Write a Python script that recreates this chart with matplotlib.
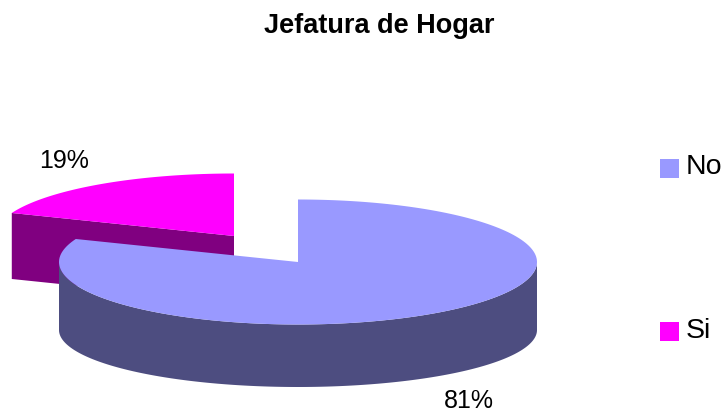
import numpy as np
import matplotlib
matplotlib.use('Agg')
import matplotlib.pyplot as plt
from matplotlib.patches import Polygon, Rectangle

plt.rcParams['font.family'] = ['Liberation Sans', 'DejaVu Sans']

title = 'Jefatura de Hogar'
labels = ['No', 'Si']
values = [81, 19]
top_colors = ['#9999ff', '#ff00ff']
side_colors = ['#4d4d80', '#800080']


def arc(cx, cy, a0, a1, rx=239, ry=62.5):
    # angles in degrees, clockwise from 12 o'clock
    t = np.radians(np.linspace(a0, a1, 200))
    return np.column_stack([cx + rx * np.sin(t), cy - ry * np.cos(t)])


fig = plt.figure(figsize=(7.25, 4.12), dpi=100)
ax = fig.add_axes([0, 0, 1, 1])
ax.set_xlim(0, 725)
ax.set_ylim(412, 0)
ax.axis('off')

end_no = 360 * values[0] / sum(values)

# slice "Si", pulled out to the upper left
cx, cy = 234, 236
si_top = arc(cx, cy, end_no, 360)
left = si_top[0]
depth = 66
ax.add_patch(Polygon([(cx, cy), left, (left[0], left[1] + depth), (cx, cy + depth)],
                     fc=side_colors[1], ec='none', zorder=1))
ax.add_patch(Polygon(np.vstack([[(cx, cy)], si_top]), fc=top_colors[1], ec='none', zorder=2))

# slice "No", the bottom ellipse is a bit flatter than the top one
cx, cy = 298, 262
rim = arc(cx, cy, 90, 270)
rim_low = arc(cx, cy + 68, 90, 270, ry=57)
wall = np.vstack([rim, rim_low[::-1]])
ax.add_patch(Polygon(wall, fc=side_colors[0], ec='none', zorder=3))
ax.add_patch(Polygon(np.vstack([[(cx, cy)], arc(cx, cy, 0, end_no)]),
                     fc=top_colors[0], ec='none', zorder=4))

ax.text(379.5, 32.5, title, ha='center', va='baseline', fontsize=19.5, fontweight='bold', color='black')
ax.text(64, 168, '%d%%' % values[1], ha='center', va='baseline', fontsize=18)
ax.text(469, 408, '%d%%' % values[0], ha='center', va='baseline', fontsize=18)

for lab, col, ly, base in zip(labels, top_colors, [168.5, 331.5], [174, 338]):
    ax.add_patch(Rectangle((660, ly - 9.5), 19, 19, fc=col, ec='none'))
    ax.text(686, base, lab, ha='left', va='baseline', fontsize=20.5)

fig.savefig('out.png', dpi=100)
